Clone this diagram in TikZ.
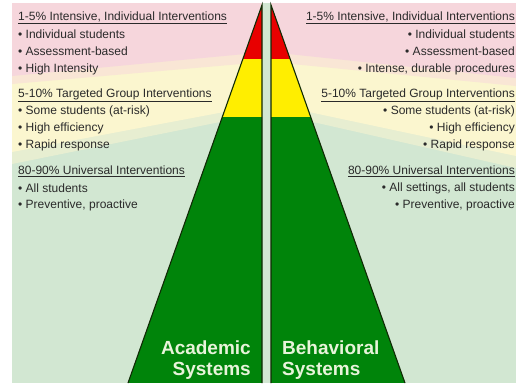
\documentclass[tikz,border=0pt]{standalone}
\usepackage{fontspec}
\setmainfont{Liberation Sans}
\definecolor{bgpink}{HTML}{F6D6DC}
\definecolor{bgyellow}{HTML}{FBF6CF}
\definecolor{bggreen}{HTML}{D2E7D2}
\definecolor{pyrred}{HTML}{E80000}
\definecolor{pyryellow}{HTML}{FFEE00}
\definecolor{pyrgreen}{HTML}{00840A}
\definecolor{pyrline}{HTML}{102A05}
\definecolor{textgray}{HTML}{2A2A2A}
\definecolor{syslabel}{HTML}{E8F4DA}
\tikzset{
  txt/.style={font=\fontsize{12}{14}\selectfont, text=textgray, inner sep=0pt},
  litem/.style={txt, anchor=west},
  ritem/.style={txt, anchor=east},
  syslbl/.style={font=\fontsize{19}{21}\selectfont\bfseries, text=syslabel, inner sep=0pt}
}
\begin{document}
\begin{tikzpicture}[x=1pt,y=-1pt]
\useasboundingbox (0,0) rectangle (516,383);
\fill[white] (0,0) rectangle (516,383);
% background bands (with soft blended edges)
\fill[bggreen] (12,3) rectangle (516,383);
\fill[bggreen!50!bgyellow] (12,3) -- (262,3) -- (220,122) -- (12,164) -- cycle;
\fill[bgyellow] (12,3) -- (262,3) -- (224,112) -- (12,152) -- cycle;
\fill[bgyellow!50!bgpink] (12,3) -- (262,3) -- (241,64) -- (12,84) -- cycle;
\fill[bgpink] (12,3) -- (262,3) -- (245,54) -- (12,76) -- cycle;
\fill[bggreen!50!bgyellow] (271,3) -- (516,3) -- (516,168) -- (313,122) -- cycle;
\fill[bgyellow] (271,3) -- (516,3) -- (516,156) -- (309,112) -- cycle;
\fill[bgyellow!50!bgpink] (271,3) -- (516,3) -- (516,86) -- (292,64) -- cycle;
\fill[bgpink] (271,3) -- (516,3) -- (516,78) -- (288,54) -- cycle;
% left pyramid
\begin{scope}
\clip (262,5) -- (262,383) -- (128,383) -- cycle;
\fill[pyrred] (120,0) rectangle (270,59);
\fill[pyryellow] (120,59) rectangle (270,117);
\fill[pyrgreen] (120,117) rectangle (270,383);
\end{scope}
\draw[pyrline, line width=1.1pt, line join=miter] (128,383) -- (262,5) -- (262,383);
% right pyramid
\begin{scope}
\clip (271,5) -- (405,383) -- (271,383) -- cycle;
\fill[pyrred] (265,0) rectangle (410,59);
\fill[pyryellow] (265,59) rectangle (410,117);
\fill[pyrgreen] (265,117) rectangle (410,383);
\end{scope}
\draw[pyrline, line width=1.1pt, line join=miter] (271,383) -- (271,5) -- (405,383);
% left texts
\node[litem] (l1) at (18,18) {\underline{1-5\% Intensive, Individual Interventions}};
\node[litem] (l2) at (18,34) {• Individual students};
\node[litem] (l3) at (18,51) {• Assessment-based};
\node[litem] (l4) at (18,69) {• High Intensity};
\node[litem] (l5) at (18,95) {\underline{5-10\% Targeted Group Interventions}};
\node[litem] (l6) at (18,111) {• Some students (at-risk)};
\node[litem] (l7) at (18,128) {• High efficiency};
\node[litem] (l8) at (18,145) {• Rapid response};
\node[litem] (l9) at (18,171) {\underline{80-90\% Universal Interventions}};
\node[litem] (l10) at (18,188) {• All students};
\node[litem] (l11) at (18,205) {• Preventive, proactive};
% right texts
\node[ritem] (r1) at (515,18) {\underline{1-5\% Intensive, Individual Interventions}};
\node[ritem] (r2) at (515,34) {• Individual students};
\node[ritem] (r3) at (515,51) {• Assessment-based};
\node[ritem] (r4) at (515,69) {• Intense, durable procedures};
\node[ritem] (r5) at (515,95) {\underline{5-10\% Targeted Group Interventions}};
\node[ritem] (r6) at (515,111) {• Some students (at-risk)};
\node[ritem] (r7) at (515,128) {• High efficiency};
\node[ritem] (r8) at (515,145) {• Rapid response};
\node[ritem] (r9) at (515,171) {\underline{80-90\% Universal Interventions}};
\node[ritem] (r10) at (515,188) {• All settings, all students};
\node[ritem] (r11) at (515,205) {• Preventive, proactive};
% system labels
\node[syslbl, anchor=east, align=right] (acad) at (251,360) {Academic\\Systems};
\node[syslbl, anchor=west, align=left] (behav) at (282,360) {Behavioral\\Systems};
\end{tikzpicture}
\end{document}
